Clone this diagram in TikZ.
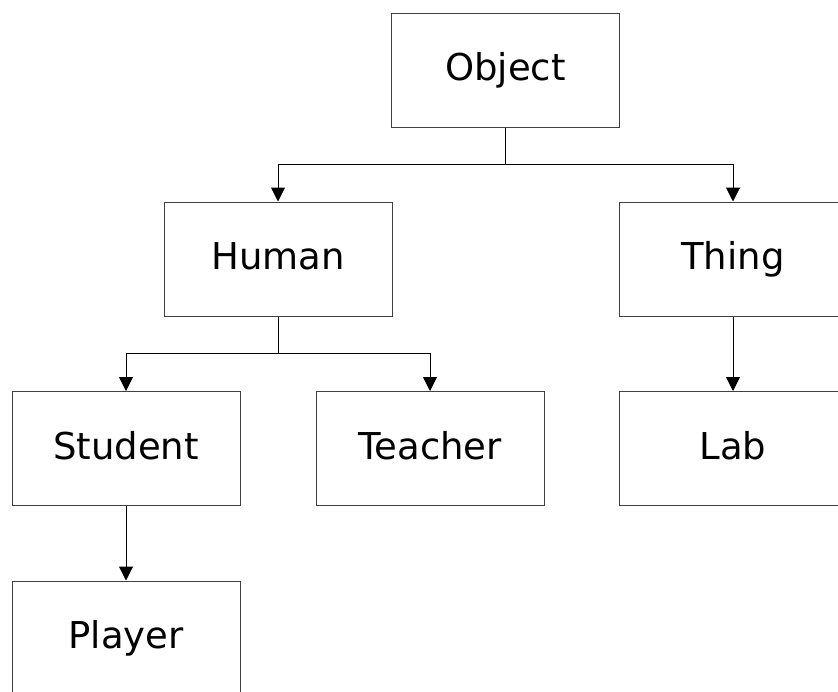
\documentclass[tikz,border=0pt]{standalone}
\usepackage{fontspec}
\setmainfont{DejaVu Sans}
\usetikzlibrary{arrows.meta}
\begin{document}
\begin{tikzpicture}[x=1pt,y=-1pt,
  cls/.style={draw=black!75, line width=1pt, minimum width=228pt, minimum height=114pt,
    inner sep=0pt, font=\fontsize{37}{40}\selectfont, text height=27pt, text depth=6pt},
  conn/.style={draw=black, line width=1pt, -{Triangle[width=14pt,length=14pt]}}]
\clip (0,0) rectangle (838,691);
\fill[white] (0,0) rectangle (838,691);
\node[cls] (object)  at (505.5,70)  {Object};
\node[cls] (human)   at (278,259)   {Human};
\node[cls] (thing)   at (733,259)   {Thing};
\node[cls] (student) at (126,448.5) {Student};
\node[cls] (teacher) at (430,448.5) {Teacher};
\node[cls] (lab)     at (733,448.5) {Lab};
\node[cls] (player)  at (126,638)   {Player};
\coordinate (j1) at (505.5,164);
\coordinate (j2) at (278,353);
\draw[line width=1pt] (object.south) -- (j1);
\draw[conn] (j1) -| (human.north);
\draw[conn] (j1) -| (thing.north);
\draw[line width=1pt] (human.south) -- (j2);
\draw[conn] (j2) -| (student.north);
\draw[conn] (j2) -| (teacher.north);
\draw[conn] (thing.south) -- (lab.north);
\draw[conn] (student.south) -- (player.north);
\end{tikzpicture}
\end{document}
